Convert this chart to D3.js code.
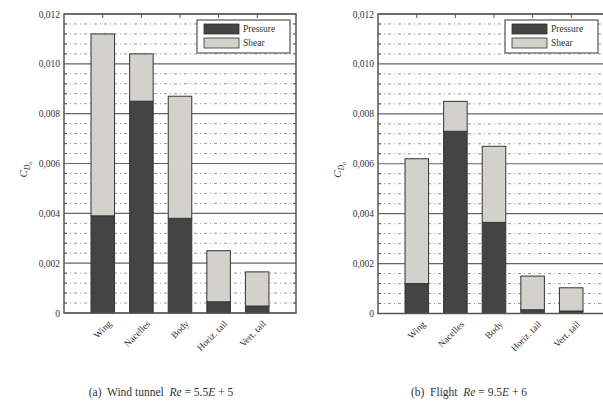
<!DOCTYPE html>
<html>
<head>
<meta charset="utf-8">
<script src="https://cdn.jsdelivr.net/npm/d3@7"></script>
<style>
  html, body { margin: 0; padding: 0; background: #fff; }
  svg { display: block; }
  text { font-family: "Liberation Serif", "DejaVu Serif", serif; fill: #333; }
</style>
</head>
<body>
<svg id="chart" width="603" height="406"></svg>
<script>
// Drag coefficient breakdown per component
const categories = ["Wing", "Nacelles", "Body", "Horiz. tail", "Vert. tail"];
const seriesNames = ["Pressure", "Shear"];
const windPressure = [0.0039, 0.0085, 0.0038, 0.00045, 0.00028];
const windShear = [0.0073, 0.0019, 0.0049, 0.00205, 0.00137];
const flightPressure = [0.0012, 0.0073, 0.00365, 0.00015, 0.0001];
const flightShear = [0.0050, 0.0012, 0.00305, 0.00135, 0.00093];
const yTicks = [0, 0.002, 0.004, 0.006, 0.008, 0.010, 0.012];
const yTickLabels = ["0", "0,002", "0,004", "0,006", "0,008", "0,010", "0,012"];
const colors = { Pressure: "#444444", Shear: "#d3d1cb" };

const svg = d3.select("#chart");

const panels = [
  { x0: 64, x1: 296, y0: 14, y1: 313, pressure: windPressure, shear: windShear, legendX: 197,
    caption: [["(a)  Wind tunnel  ", false], ["Re", true], [" = 5.5", false], ["E", true], [" + 5", false]], cx: 161 },
  { x0: 378, x1: 610, y0: 14, y1: 313.5, pressure: flightPressure, shear: flightShear, legendX: 505,
    caption: [["(b)  Flight  ", false], ["Re", true], [" = 9.5", false], ["E", true], [" + 6", false]], cx: 469 }
];

panels.forEach(p => {
  const g = svg.append("g");
  const x = d3.scaleBand().domain(categories).range([p.x0, p.x1])
    .paddingInner(0.39).paddingOuter(0.7);
  const y = d3.scaleLinear().domain([0, 0.012]).range([p.y1, p.y0]);

  // minor dash-dot grid
  const minor = d3.range(0, 0.01201, 0.0004).filter(v => Math.round(v * 10000) % 20 !== 0);
  g.append("g").selectAll("line").data(minor).join("line")
    .attr("x1", p.x0).attr("x2", p.x1)
    .attr("y1", d => y(d)).attr("y2", d => y(d))
    .attr("stroke", "#999").attr("stroke-width", 1)
    .attr("stroke-dasharray", "3,3,1,3");

  // major grid
  g.append("g").selectAll("line").data(yTicks).join("line")
    .attr("x1", p.x0).attr("x2", p.x1)
    .attr("y1", d => y(d)).attr("y2", d => y(d))
    .attr("stroke", "#666").attr("stroke-width", 1.2);

  // stacked bars
  const rows = categories.map((c, i) => ({ cat: c, Pressure: p.pressure[i], Shear: p.shear[i] }));
  const stack = d3.stack().keys(seriesNames)(rows);
  g.append("g").selectAll("g").data(stack).join("g")
    .attr("fill", d => colors[d.key])
    .selectAll("rect").data(d => d).join("rect")
    .attr("x", d => x(d.data.cat))
    .attr("width", x.bandwidth())
    .attr("y", d => y(d[1]))
    .attr("height", d => y(d[0]) - y(d[1]))
    .attr("stroke", "#333").attr("stroke-width", 1);

  // frame
  g.append("rect").attr("x", p.x0).attr("y", p.y0)
    .attr("width", p.x1 - p.x0).attr("height", p.y1 - p.y0)
    .attr("fill", "none").attr("stroke", "#555").attr("stroke-width", 1.5);

  // left axis
  const yAxis = d3.axisLeft(y).tickValues(yTicks)
    .tickFormat((d, i) => yTickLabels[i]).tickSize(0).tickPadding(4);
  const ya = g.append("g").attr("transform", `translate(${p.x0},0)`).call(yAxis);
  ya.select(".domain").remove();
  ya.selectAll("text").attr("font-size", 9.5).attr("fill", "#444")
    .attr("font-family", "Liberation Serif, serif");

  // minor ticks inside left and right edges
  g.append("g").selectAll("line").data(minor).join("line")
    .attr("x1", p.x0).attr("x2", p.x0 + 3)
    .attr("y1", d => y(d)).attr("y2", d => y(d)).attr("stroke", "#555");
  g.append("g").selectAll("line").data(minor).join("line")
    .attr("x1", p.x1 - 3).attr("x2", p.x1)
    .attr("y1", d => y(d)).attr("y2", d => y(d)).attr("stroke", "#555");

  // top ticks at bar centres
  g.append("g").selectAll("line").data(categories).join("line")
    .attr("x1", d => x(d) + x.bandwidth() / 2).attr("x2", d => x(d) + x.bandwidth() / 2)
    .attr("y1", p.y0).attr("y2", p.y0 + 4).attr("stroke", "#555");

  // bottom category labels
  const xAxis = d3.axisBottom(x).tickSize(0).tickPadding(0);
  const xa = g.append("g").attr("transform", `translate(0,${p.y1})`).call(xAxis);
  xa.select(".domain").remove();
  xa.selectAll("text")
    .attr("font-size", 9.5).attr("fill", "#444")
    .attr("font-family", "Liberation Serif, serif")
    .attr("text-anchor", "end")
    .attr("dy", "0.35em")
    .attr("transform", "translate(7,9) rotate(-45)");

  // y label C_{D_a}
  const lab = g.append("text")
    .attr("transform", `translate(${p.x0 - 37},${(p.y0 + p.y1) / 2 + 6}) rotate(-90)`)
    .attr("text-anchor", "middle").attr("font-size", 11).attr("fill", "#444")
    .attr("font-style", "italic");
  lab.append("tspan").text("C");
  lab.append("tspan").attr("font-size", 7.5).attr("dy", 3).text("D");
  lab.append("tspan").attr("font-size", 6).attr("dy", 2).text("a");

  // legend
  const lx = p.legendX, ly = p.y0 + 6;
  const leg = g.append("g");
  leg.append("rect").attr("x", lx).attr("y", ly).attr("width", 93).attr("height", 33)
    .attr("fill", "#fff").attr("stroke", "#555").attr("stroke-width", 1.2);
  seriesNames.forEach((s, i) => {
    leg.append("rect").attr("x", lx + 7).attr("y", ly + 4 + i * 14)
      .attr("width", 35).attr("height", 10)
      .attr("fill", colors[s]).attr("stroke", "#333").attr("stroke-width", 0.8);
    leg.append("text").attr("x", lx + 46).attr("y", ly + 9 + i * 14)
      .attr("dy", "0.35em").attr("font-size", 9.5).attr("fill", "#444").text(s);
  });

  // caption
  const cap = svg.append("text").attr("x", p.cx).attr("y", 396)
    .attr("text-anchor", "middle").attr("font-size", 11.5).attr("fill", "#444")
    .attr("xml:space", "preserve");
  p.caption.forEach(([t, it]) => {
    cap.append("tspan").attr("font-style", it ? "italic" : "normal").text(t);
  });
});
</script>
</body>
</html>
